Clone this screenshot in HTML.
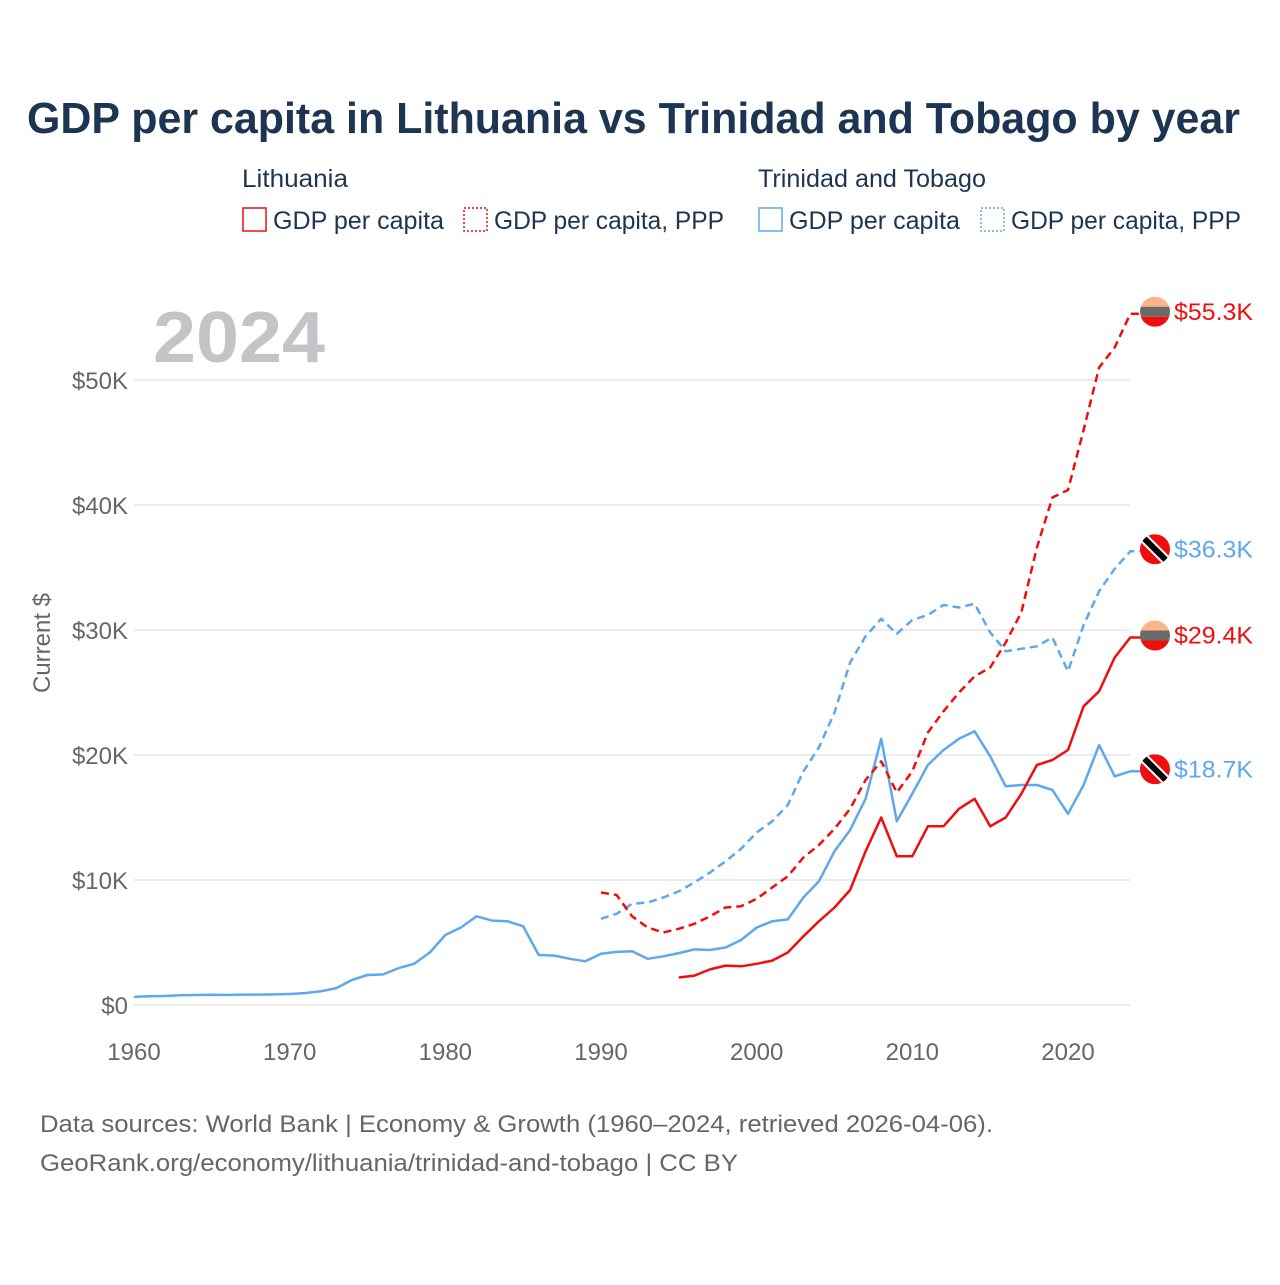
<!DOCTYPE html>
<html><head><meta charset="utf-8">
<style>
html,body{margin:0;padding:0;background:#fff;}
body{width:1280px;height:1280px;font-family:"Liberation Sans",sans-serif;}
svg text{font-family:"Liberation Sans",sans-serif;}
</style></head>
<body>
<svg id="chart" width="1280" height="1280" viewBox="0 0 1280 1280">
<text x="27" y="133" font-size="44" font-weight="bold" fill="#1c3552" textLength="1213" lengthAdjust="spacingAndGlyphs">GDP per capita in Lithuania vs Trinidad and Tobago by year</text>
<g font-size="25" fill="#1c3552">
<text x="242" y="187" textLength="106" lengthAdjust="spacingAndGlyphs">Lithuania</text>
<rect x="243" y="208" width="23" height="23" fill="none" stroke="#f00d0d" stroke-width="1.5"/>
<text x="273" y="229" textLength="171" lengthAdjust="spacingAndGlyphs">GDP per capita</text>
<rect x="464" y="208" width="23" height="23" fill="none" stroke="#f00d0d" stroke-width="1.5" stroke-dasharray="2,2"/>
<text x="494" y="229" textLength="230" lengthAdjust="spacingAndGlyphs">GDP per capita, PPP</text>
<text x="758" y="187" textLength="228" lengthAdjust="spacingAndGlyphs">Trinidad and Tobago</text>
<rect x="759" y="208" width="23" height="23" fill="none" stroke="#5ea8ec" stroke-width="1.5"/>
<text x="789" y="229" textLength="171" lengthAdjust="spacingAndGlyphs">GDP per capita</text>
<rect x="981" y="208" width="23" height="23" fill="none" stroke="#5ea8ec" stroke-width="1.5" stroke-dasharray="2,2"/>
<text x="1011" y="229" textLength="230" lengthAdjust="spacingAndGlyphs">GDP per capita, PPP</text>
</g>
<text x="153" y="362" font-size="72" font-weight="bold" fill="#c4c4c8" textLength="172" lengthAdjust="spacingAndGlyphs">2024</text>
<text transform="translate(50,643) rotate(-90)" text-anchor="middle" font-size="24" fill="#666">Current $</text>
<g id="grid"></g>
<g id="series"></g>
<g id="ends"></g>
<text x="40" y="1132" font-size="24" fill="#666" textLength="953" lengthAdjust="spacingAndGlyphs">Data sources: World Bank | Economy &amp; Growth (1960–2024, retrieved 2026-04-06).</text>
<text x="40" y="1171" font-size="24" fill="#666" textLength="698" lengthAdjust="spacingAndGlyphs">GeoRank.org/economy/lithuania/trinidad-and-tobago | CC BY</text>
</svg>
<script>
const yTicks=[0,10000,20000,30000,40000,50000];
const yTickLabels=["$0","$10K","$20K","$30K","$40K","$50K"];
const xTicks=[1960,1970,1980,1990,2000,2010,2020];
const ttGdpStart=1960;
const ttGdp=[650,700,720,780,800,820,800,830,830,850,880,950,1100,1350,2000,2400,2450,2950,3300,4200,5600,6200,7100,6750,6700,6300,4000,3950,3700,3500,4100,4250,4300,3700,3900,4150,4450,4400,4600,5200,6200,6700,6850,8600,9900,12300,14000,16500,21300,14700,16900,19200,20400,21300,21900,19900,17500,17600,17600,17200,15300,17600,20800,18300,18700];
const ttPppStart=1990;
const ttPpp=[6900,7300,8100,8200,8600,9100,9800,10600,11500,12500,13800,14700,16000,18700,20600,23400,27400,29500,30900,29700,30800,31200,32000,31800,32100,29800,28300,28500,28700,29400,26700,30400,33100,34900,36300];
const ltGdpStart=1995;
const ltGdp=[2200,2350,2850,3150,3100,3300,3550,4200,5500,6700,7800,9200,12300,15000,11900,11900,14300,14300,15700,16500,14300,15000,16900,19200,19600,20400,23900,25100,27800,29400];
const ltPppStart=1990;
const ltPpp=[9000,8800,7100,6200,5800,6100,6500,7100,7800,7900,8500,9400,10300,11800,12800,14100,15700,18000,19500,17000,18700,21800,23500,25000,26300,27000,29000,31400,36600,40600,41200,46000,51000,52600,55300];
const endLabels=["$55.3K","$36.3K","$29.4K","$18.7K"];

const NS="http://www.w3.org/2000/svg";
const x=yr=>134+(yr-1960)*(1068-134)/60;
const y=v=>1005-v*125/10000;
function mk(tag,attrs,parent){const e=document.createElementNS(NS,tag);for(const k in attrs)e.setAttribute(k,attrs[k]);parent.appendChild(e);return e;}
const grid=document.getElementById('grid');
yTicks.forEach((t,i)=>{
  const l=mk('line',{x1:134,x2:1130,y1:y(t),y2:y(t),stroke:'#e6e6e6','stroke-width':1.5},grid);
  
  
  const tx=mk('text',{x:128,y:y(t)+9,'text-anchor':'end','font-size':24,fill:'#666'},grid);
  tx.textContent=yTickLabels[i];
  
  
});
xTicks.forEach(t=>{
  const tx=mk('text',{x:x(t),y:1060,'text-anchor':'middle','font-size':24,fill:'#666'},grid);
  tx.textContent=t;
  
  
});
const series=document.getElementById('series');
function draw(vals,start,color,dash,name){
  let d=vals.map((v,i)=>(i?'L':'M')+x(start+i).toFixed(1)+','+y(v).toFixed(1)).join(' ');
  d+=' L'+(x(start+vals.length-1)+12).toFixed(1)+','+y(vals[vals.length-1]).toFixed(1);
  const p=mk('path',{d:d,fill:'none',stroke:color,'stroke-width':2.5,'stroke-dasharray':dash?'8,5':'none','stroke-linejoin':'round'},series);
  
  
}
draw(ttGdp,ttGdpStart,'#5ea8ec',false,'line-trinidad-gdp');
draw(ttPpp,ttPppStart,'#5ea8ec',true,'line-trinidad-ppp');
draw(ltGdp,ltGdpStart,'#f00d0d',false,'line-lithuania-gdp');
draw(ltPpp,ltPppStart,'#f00d0d',true,'line-lithuania-ppp');

const ends=document.getElementById('ends');
const endVals=[ltPpp[ltPpp.length-1],ttPpp[ttPpp.length-1],ltGdp[ltGdp.length-1],ttGdp[ttGdp.length-1]];
const endCountry=['lt','tt','lt','tt'];
endVals.forEach((v,i)=>{
  const cy=y(v)-2,cx=1155;
  const g=mk('g',{},ends);
  
  
  const cid='c'+i;
  const cp=mk('clipPath',{id:cid},g);mk('circle',{cx:cx,cy:cy,r:15},cp);
  const inner=mk('g',{'clip-path':'url(#'+cid+')'},g);
  if(endCountry[i]==='lt'){
    mk('rect',{x:cx-15,y:cy-15,width:30,height:10,fill:'#fbb48c'},inner);
    mk('rect',{x:cx-15,y:cy-5,width:30,height:10,fill:'#6a6a66'},inner);
    mk('rect',{x:cx-15,y:cy+5,width:30,height:10,fill:'#f00d0d'},inner);
  }else{
    mk('rect',{x:cx-15,y:cy-15,width:30,height:30,fill:'#f00d0d'},inner);
    mk('line',{x1:cx-15,y1:cy-15,x2:cx+15,y2:cy+15,stroke:'#fff',"stroke-width":10},inner);
    mk('line',{x1:cx-15,y1:cy-15,x2:cx+15,y2:cy+15,stroke:'#000',"stroke-width":6},inner);
  }
  const tx=mk('text',{x:1174,y:cy+8,'font-size':24,fill:endCountry[i]==='lt'?'#f00d0d':'#5ea8ec',textLength:79,lengthAdjust:'spacingAndGlyphs'},ends);
  tx.textContent=endLabels[i];
  
  
});
</script>
</body></html>
